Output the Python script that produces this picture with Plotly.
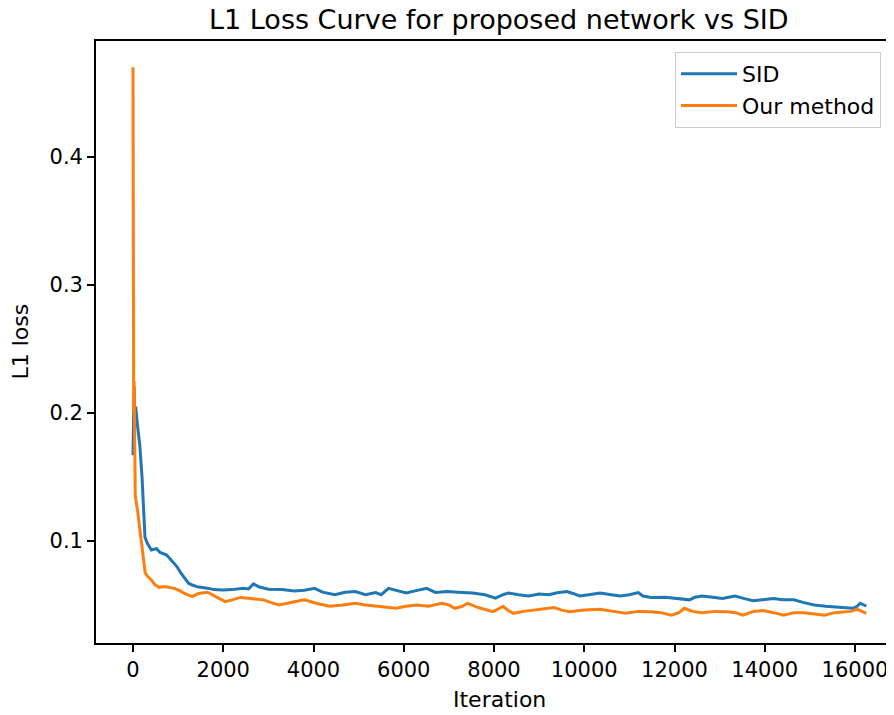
import plotly.graph_objects as go

# ---- data ----
sid_iter = [0, 25, 40, 60, 100, 150, 200, 237, 265, 320, 407, 520, 600, 746, 850, 972, 1060, 1141, 1230, 1311,
            1450, 1650, 1800, 1989, 2200, 2441, 2560, 2667, 2800, 3006, 3300, 3571, 3800, 4023, 4200, 4475, 4700,
            4927, 5150, 5379, 5500, 5661, 5850, 6057, 6250, 6509, 6700, 6961, 7200, 7526, 7800, 8034, 8200, 8317,
            8550, 8769, 9000, 9221, 9400, 9616, 9750, 9899, 10100, 10351, 10600, 10803, 11000, 11198, 11300, 11481,
            11800, 12046, 12200, 12328, 12450, 12611, 12850, 13063, 13200, 13345, 13550, 13741, 13950, 14193, 14400,
            14645, 14850, 15097, 15350, 15662, 15800, 15944, 16050, 16114, 16200, 16249]
sid_loss = [0.167, 0.221, 0.195, 0.205, 0.19, 0.175, 0.150, 0.120, 0.103, 0.098, 0.093, 0.094, 0.091, 0.089, 0.085,
            0.080, 0.075, 0.071, 0.067, 0.0656, 0.064, 0.063, 0.062, 0.0617, 0.062, 0.063, 0.0625, 0.0665, 0.064,
            0.0623, 0.062, 0.061, 0.0615, 0.063, 0.060, 0.058, 0.060, 0.0605, 0.058, 0.0597, 0.058, 0.063, 0.061,
            0.0594, 0.061, 0.063, 0.0598, 0.0605, 0.060, 0.0594, 0.058, 0.0554, 0.058, 0.0594, 0.058, 0.057, 0.0585,
            0.058, 0.0595, 0.0605, 0.059, 0.0570, 0.058, 0.0594, 0.058, 0.057, 0.058, 0.0597, 0.057, 0.0559, 0.056,
            0.0552, 0.055, 0.054, 0.056, 0.057, 0.056, 0.055, 0.056, 0.057, 0.055, 0.0533, 0.054, 0.055, 0.054,
            0.054, 0.052, 0.050, 0.049, 0.048, 0.0475, 0.0474, 0.049, 0.0513, 0.050, 0.049]

our_iter = [0, 8, 15, 25, 35, 50, 100, 150, 181, 215, 250, 271, 330, 407, 480, 576, 700, 800, 915, 1042, 1141,
            1311, 1450, 1650, 1850, 2045, 2200, 2384, 2600, 2893, 3050, 3232, 3500, 3797, 4100, 4362, 4650, 4927,
            5150, 5379, 5600, 5831, 6050, 6283, 6550, 6848, 7000, 7130, 7300, 7413, 7650, 7978, 8100, 8204, 8300,
            8430, 8650, 8882, 9100, 9334, 9500, 9673, 10000, 10351, 10650, 10916, 11200, 11481, 11700, 11933, 12100,
            12215, 12400, 12611, 12900, 13176, 13350, 13515, 13750, 13967, 14200, 14419, 14650, 14871, 15100, 15323,
            15550, 15775, 15900, 16057, 16150, 16249]
our_loss = [0.470, 0.236, 0.20, 0.225, 0.16, 0.135, 0.124, 0.110, 0.101, 0.093, 0.080, 0.075, 0.072, 0.0695, 0.066,
            0.0638, 0.0645, 0.064, 0.063, 0.061, 0.059, 0.0566, 0.059, 0.060, 0.056, 0.0526, 0.054, 0.0559, 0.055,
            0.054, 0.052, 0.050, 0.052, 0.054, 0.051, 0.049, 0.050, 0.0513, 0.050, 0.049, 0.048, 0.0474, 0.049,
            0.050, 0.049, 0.0513, 0.050, 0.0474, 0.049, 0.0513, 0.048, 0.0448, 0.047, 0.049, 0.046, 0.0435, 0.045,
            0.046, 0.047, 0.048, 0.046, 0.0448, 0.046, 0.0466, 0.045, 0.0435, 0.045, 0.0448, 0.044, 0.042, 0.044,
            0.0474, 0.045, 0.044, 0.045, 0.0448, 0.044, 0.042, 0.045, 0.0456, 0.044, 0.042, 0.044, 0.044, 0.043,
            0.042, 0.044, 0.0448, 0.045, 0.0466, 0.045, 0.0435]

x_ticks = [0, 2000, 4000, 6000, 8000, 10000, 12000, 14000, 16000]
x_tick_text = ["0", "2000", "4000", "6000", "8000", "10000", "12000", "14000", "16000"]
y_ticks = [0.1, 0.2, 0.3, 0.4]
y_tick_text = ["0.1", "0.2", "0.3", "0.4"]

FONT = "DejaVu Sans"

fig = go.Figure()
fig.add_trace(go.Scatter(x=sid_iter, y=sid_loss, mode="lines", name="SID",
                         line=dict(color="#1f77b4", width=3)))
fig.add_trace(go.Scatter(x=our_iter, y=our_loss, mode="lines", name="Our method",
                         line=dict(color="#ff7f0e", width=3)))

# page body has an 8px margin, so the figure is laid out in page coords minus 8
OFF = 8
W, H = 894 - OFF, 715 - OFF
L, R, T = 96 - OFF, 0, 41 - OFF
B = H - (643 - OFF)
PW, PH = W - L - R, H - T - B


def px_x(page_x):
    return (page_x - OFF - L) / PW


def px_y(page_y):
    return (H - B - (page_y - OFF)) / PH


fig.update_layout(
    width=W, height=H,
    margin=dict(l=L, r=R, t=T, b=B, autoexpand=False),
    paper_bgcolor="white", plot_bgcolor="white",
    font=dict(family=FONT, size=21, color="black"),
    showlegend=True,
    legend=dict(x=px_x(675), y=px_y(52), xanchor="left", yanchor="top",
                bgcolor="rgba(255,255,255,0.8)", bordercolor="#cccccc", borderwidth=1,
                font=dict(family=FONT, size=22, color="black"),
                tracegroupgap=0, itemwidth=56),
    xaxis=dict(range=[-820, 16864], tickvals=x_ticks, ticktext=x_tick_text, showgrid=False, zeroline=False,
               showline=True, linecolor="black", linewidth=1.7, mirror=True, automargin=False,
               ticks="outside", ticklen=7, tickwidth=1.7, tickcolor="black",
               tickfont=dict(family=FONT, size=21, color="black")),
    yaxis=dict(range=[0.0203, 0.4906], tickvals=y_ticks, ticktext=y_tick_text, showgrid=False,
               zeroline=False, showline=True, linecolor="black", linewidth=1.7, mirror=False, automargin=False,
               ticks="outside", ticklen=7, tickwidth=1.7, tickcolor="black",
               tickfont=dict(family=FONT, size=21, color="black")),
    annotations=[
        dict(text="L1 Loss Curve for proposed network vs SID", xref="paper", yref="paper",
             x=px_x(499), y=px_y(20), xanchor="center", yanchor="middle",
             showarrow=False, font=dict(family=FONT, size=27, color="black")),
        dict(text="Iteration", xref="paper", yref="paper",
             x=px_x(499), y=px_y(699), xanchor="center", yanchor="middle",
             showarrow=False, font=dict(family=FONT, size=22, color="black")),
        dict(text="L1 loss", xref="paper", yref="paper", textangle=-90,
             x=px_x(19.5), y=px_y(342), xanchor="center", yanchor="middle",
             showarrow=False, font=dict(family=FONT, size=22, color="black")),
    ],
)

fig.write_html("out.html")
